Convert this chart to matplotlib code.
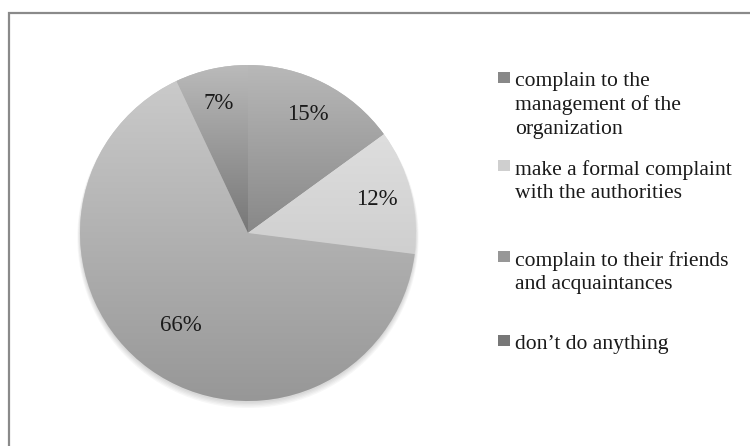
# pie chart: what people do about a bad service
import numpy as np
import matplotlib.pyplot as plt
from matplotlib.patches import Rectangle

# data
labels = ['complain to the\nmanagement of the\norganization',
          'make a formal complaint\nwith the authorities',
          'complain to their friends\nand acquaintances',
          "don\u2019t do anything"]
shares = [15, 12, 66, 7]
# light (top) and dark (bottom) tone of each slice
tops = ['#b8b8b8', '#dedede', '#cacaca', '#bababa']
bottoms = ['#888888', '#cfcfcf', '#979797', '#777777']

W, H = 750, 446
fig = plt.figure(figsize=(W / 100, H / 100), dpi=100)
plt.rcParams['font.family'] = ['Liberation Serif', 'DejaVu Serif']

# outer frame (runs off the right and bottom edge)
fig.patches.append(Rectangle((9 / W, -0.05), 1.2, 1 - 13 / H + 0.05,
                             transform=fig.transFigure, fill=False,
                             edgecolor='#8a8a8a', linewidth=1.6))

# pie axes: centre (248, 233) px, radius 168 px, limits padded by 10%
R = 168
cx, cy = 248, 233
P = 1.1
ax = fig.add_axes([(cx - R * P) / W, (H - cy - R * P) / H,
                   2 * R * P / W, 2 * R * P / H])
wedges, texts, autotexts = ax.pie(shares, startangle=90, counterclock=False,
                                  colors=tops, autopct='%d%%', pctdistance=0.79,
                                  wedgeprops=dict(linewidth=0),
                                  textprops=dict(fontsize=16.5, color='#1a1a1a'))

# soft shadow under the pie
for k in range(5):
    c = plt.Circle((0, -0.01 - 0.004 * k), 1.0 + 0.004 * k, color='#000000',
                   alpha=0.03, zorder=0, linewidth=0)
    ax.add_patch(c)

# vertical gradient per slice
for w, t, b in zip(wedges, tops, bottoms):
    verts = w.get_path().vertices
    ext = w.get_patch_transform().transform(verts)
    y0, y1 = ext[:, 1].min(), ext[:, 1].max()
    x0, x1 = ext[:, 0].min(), ext[:, 0].max()
    ct = np.array(plt.matplotlib.colors.to_rgb(t))
    cb = np.array(plt.matplotlib.colors.to_rgb(b))
    f = np.linspace(0, 1, 128)[:, None]
    img = (ct * (1 - f) + cb * f)[:, None, :]
    im = ax.imshow(img, extent=(x0, x1, y0, y1), origin='upper',
                   aspect='auto', zorder=1.5, interpolation='bilinear')
    im.set_clip_path(w)
ax.set_xlim(-P, P)
ax.set_ylim(-P, P)
for t in autotexts:
    t.set_zorder(3)
# the big slice label sits closer to the centre
x, y = autotexts[2].get_position()
autotexts[2].set_position((x * 0.86, y * 0.86))

# legend, drawn by hand
first_lines = [80, 168, 259, 343]
for lab, col, bcol, yl in zip(labels, tops, bottoms, first_lines):
    fig.patches.append(Rectangle((498 / W, 1 - (yl + 3) / H), 12 / W, 11 / H,
                                 transform=fig.transFigure, facecolor=bcol,
                                 edgecolor='none'))
    fig.text(515 / W, 1 - (yl - 8) / H, lab, fontsize=15.6, va='top', ha='left',
             color='#1a1a1a', linespacing=1.3)

plt.savefig('out.png', dpi=100)
